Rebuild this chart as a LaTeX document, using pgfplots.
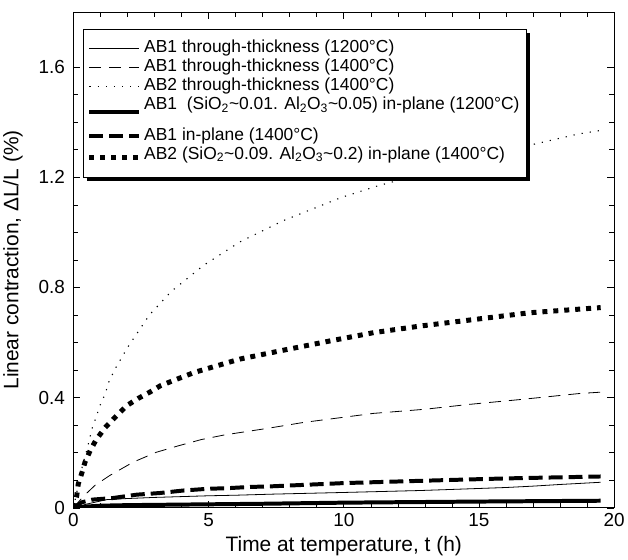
\documentclass[border=0pt]{standalone}
\usepackage{pgfplots}
\pgfplotsset{compat=1.18}
\usepackage{fontspec}
\setmainfont{Liberation Sans}
\newcommand{\dep}[1]{\rule[-#1]{0pt}{0pt}}

\begin{document}
\begin{tikzpicture}
\begin{axis}[
    name=main,
    scale only axis,
    width=543pt, height=498pt,
    xmin=0, xmax=20, ymin=0, ymax=1.8,
    xtick={0,5,10,15,20},
    ytick={0,0.4,0.8,1.2,1.6},
    minor x tick num=4,
    minor y tick num=3,
    tick align=inside,
    major tick length=7pt,
    minor tick length=5pt,
    tick style={black, line width=0.6pt},
    axis line style={line width=0.8pt},
    /pgf/number format/assume math mode=true,
    yticklabel style={/pgf/number format/fixed, /pgf/number format/precision=1, xshift=-5pt},
    xticklabel style={yshift=-2pt},
    ticklabel style={font=\fontsize{19}{22}\selectfont},
    label style={font=\fontsize{21}{24}\selectfont},
    xlabel={Time at temperature, t (h)},
    ylabel={Linear contraction, ΔL/L (\%)},
    ylabel style={yshift=9pt},
    xlabel style={yshift=-3pt},
    legend cell align=left,
    legend image code/.code={\draw[#1] (0pt,0pt) -- (50pt,0pt);},
    legend style={
        name=leg,
        at={(0.017,0.965)}, anchor=north west,
        draw=black, line width=0.8pt, fill=white,
        font=\fontsize{17.5}{19}\selectfont,
        row sep=0pt, inner xsep=4pt, inner ysep=9pt,
        nodes={inner xsep=2.5pt, inner ysep=0pt, text height=13.5pt, text depth={}},
    },
]
% AB1 through-thickness 1200
\addplot[black, line width=0.8pt] coordinates {
 (0,0) (0.5,0.014) (1.23,0.030) (2,0.034) (3,0.038) (4,0.041) (5,0.044) (6,0.046)
 (7.4,0.050) (10,0.056) (12.8,0.063) (14,0.067) (16,0.074) (17,0.079) (18,0.085) (19.5,0.093)
};
% AB1 through-thickness 1400
\addplot[black, line width=0.8pt, dash pattern=on 12pt off 8pt] coordinates {
 (0,0) (0.37,0.042) (0.8,0.082) (1.35,0.118) (2.21,0.166) (3.07,0.202) (3.87,0.225)
 (4.73,0.248) (5.6,0.265) (6.4,0.277) (7.2,0.289) (8.5,0.310) (11.1,0.343)
 (13,0.358) (14.57,0.375) (16.5,0.393) (18.7,0.415) (19.5,0.420)
};
% AB2 through-thickness 1400
\addplot[black, line width=1.1pt, dash pattern=on 1.2pt off 7pt] coordinates {
 (0,0) (0.2,0.09) (0.35,0.16) (0.49,0.207) (0.59,0.247) (0.7,0.291) (0.84,0.329)
 (0.98,0.371) (1.18,0.415) (1.3,0.455) (1.54,0.504) (2.0,0.582) (2.81,0.700)
 (3.61,0.785) (4.81,0.880) (6.15,0.965) (7.75,1.042) (9.89,1.126) (11.23,1.168)
 (13,1.215) (15,1.265) (16.95,1.318) (18.67,1.357) (19.5,1.370)
};
% AB1 in-plane 1200
\addplot[black, line width=4pt] coordinates {
 (0,0) (0.5,0.005) (1,0.008) (2,0.010) (4,0.012) (7,0.015) (10,0.019) (15,0.023) (19.5,0.026)
};
% AB1 in-plane 1400
\addplot[black, line width=4pt, dash pattern=on 14pt off 6pt] coordinates {
 (0,0) (0.3,0.020) (0.7,0.030) (1.48,0.036) (2.34,0.048) (3.2,0.054) (4.06,0.063)
 (4.92,0.069) (5.78,0.072) (6.52,0.076) (7.26,0.078) (10,0.090) (13.1,0.099)
 (16,0.107) (19.5,0.114)
};
% AB2 in-plane 1400
\addplot[black, line width=5pt, dash pattern=on 5pt off 6pt] coordinates {
 (0,0) (0.12,0.042) (0.18,0.087) (0.31,0.126) (0.43,0.166) (0.62,0.208) (0.84,0.247)
 (1.17,0.291) (1.54,0.329) (1.97,0.371) (2.39,0.397) (2.84,0.421) (3.21,0.443)
 (3.64,0.460) (4.48,0.492) (6.15,0.540) (7.75,0.572) (9.49,0.606) (11.1,0.636)
 (12.83,0.660) (14.84,0.684) (16.85,0.708) (19.5,0.727)
};
\legend{
 {AB1 through-thickness (1200°C)\dep{5.8pt}},
 {AB1 through-thickness (1400°C)\dep{5.8pt}},
 {AB2 through-thickness (1400°C)\dep{5.8pt}},
 {AB1\ \ (SiO\textsubscript{2}\textasciitilde0.01. Al\textsubscript{2}O\textsubscript{3}\textasciitilde0.05) in-plane (1200°C)\dep{17pt}},
 {AB1 in-plane (1400°C)\dep{5.8pt}},
 {AB2 (SiO\textsubscript{2}\textasciitilde0.09. Al\textsubscript{2}O\textsubscript{3}\textasciitilde0.2) in-plane (1400°C)\dep{9pt}}
}
\end{axis}
% drop shadow of the legend box
\draw[line width=3.5pt] ([shift={(4pt,-1.75pt)}]leg.south west) -- ([shift={(1.75pt,-1.75pt)}]leg.south east) -- ([shift={(1.75pt,-4pt)}]leg.north east);
% blank margin above the frame, as in the reference
\path (main.north) ++(0,12pt);
\end{tikzpicture}
\end{document}
